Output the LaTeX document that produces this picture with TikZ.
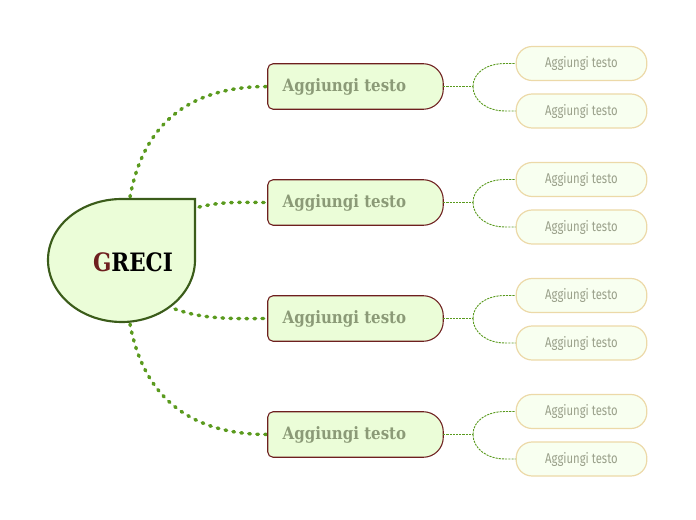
\documentclass[tikz,border=0pt]{standalone}
\usepackage{fontspec}
\newfontfamily\mainfont{DejaVu Serif}[FakeStretch=0.88]
\newfontfamily\subfont{Fira Sans}[FakeStretch=0.8]
\newfontfamily\titlefont{DejaVu Serif}[FakeStretch=0.85]
\definecolor{lnk}{HTML}{5A9A1E}
\definecolor{nodefill}{HTML}{EBFDD8}
\definecolor{nodeborder}{HTML}{6E1F1F}
\definecolor{centerborder}{HTML}{3B5C1A}
\definecolor{subfill}{HTML}{F8FFF0}
\definecolor{subborder}{HTML}{ECD9A8}
\definecolor{maintext}{HTML}{8B9A77}
\definecolor{subtext}{HTML}{9AA08A}
\definecolor{gred}{HTML}{6E1F1F}
\tikzset{
  mainbox/.style={minimum width=131.25pt, minimum height=33.75pt, inner sep=0pt},
  maintxt/.style={inner sep=0pt, font=\mainfont\bfseries\fontsize{12.8}{14}\selectfont, text=maintext},
  mainborder/.style={draw=nodeborder, fill=nodefill, line width=0.8pt},
  subbox/.style={draw=subborder, fill=subfill, line width=0.9pt, rounded corners=12pt,
    minimum width=98pt, minimum height=25.5pt, inner sep=0pt,
    font=\subfont\fontsize{10.6}{12}\selectfont, text=subtext},
  mainlink/.style={draw=lnk, line width=2.6pt, dash pattern=on 1.2pt off 4.8pt, line cap=round},
  sublink/.style={draw=lnk, line width=0.7pt, dash pattern=on 1.6pt off 0.8pt},
}
\begin{document}
\begin{tikzpicture}[x=0.75pt,y=-0.75pt]
\useasboundingbox (0,0) rectangle (696,520);
% main node frames (placed first, drawn later)
\foreach \i/\y in {1/86.5,2/202.5,3/318.5,4/434.5}{
  \node[mainbox] (m\i) at (355.5,\y) {};
}
\coordinate (c1) at (130,197);
\coordinate (c2) at (199,207);
\coordinate (c3) at (175,309);
\coordinate (c4) at (130,324);
% main links (behind nodes)
\draw[mainlink] (c1) .. controls (146,110) and (205,86.5) .. (m1.west);
\draw[mainlink] (c2) .. controls (225,201) and (240,202.5) .. (m2.west);
\draw[mainlink] (c3) .. controls (205,320) and (235,318.5) .. (m3.west);
\draw[mainlink] (c4) .. controls (146,410) and (205,434.5) .. (m4.west);
% central shape
\draw[fill=nodefill, draw=centerborder, line width=1.6pt]
  (122,199) -- (195,199) -- (195,260)
  .. controls (195,294) and (162,322) .. (122,322)
  .. controls (81,322) and (48,294) .. (48,260)
  .. controls (48,226) and (81,199) .. (122,199) -- cycle;
\node[font=\titlefont\bfseries\fontsize{19}{22}\selectfont, inner sep=0pt] (c) at (133,262) {\textcolor{gred}{G}RECI};
% main nodes
\foreach \i in {1,2,3,4}{
  \draw[mainborder] (m\i.west) [rounded corners=4pt] -- (m\i.north west) -- (m\i.north)
    [rounded corners=15pt] -- (m\i.north east) -- (m\i.south east) -- (m\i.south)
    [rounded corners=4pt] -- (m\i.south west) -- cycle;
  \node[maintxt, anchor=west] (t\i) at ([xshift=11pt,yshift=-0.6pt]m\i.west) {Aggiungi testo};
}
% sub nodes
\foreach \i/\y in {1/86.5,2/202.5,3/318.5,4/434.5}{
  \node[subbox] (s\i a) at (581.5,\y-23) {Aggiungi testo};
  \node[subbox] (s\i b) at (581.5,\y+24.5) {Aggiungi testo};
  \coordinate (b\i) at (473,\y);
  \draw[sublink] (m\i.east) -- (b\i);
  \draw[sublink] (b\i) .. controls (473,\y-14) and (487,\y-23) .. (505,\y-23) -- (s\i a.west);
  \draw[sublink] (b\i) .. controls (473,\y+14) and (487,\y+24.5) .. (505,\y+24.5) -- (s\i b.west);
}
\end{tikzpicture}
\end{document}
